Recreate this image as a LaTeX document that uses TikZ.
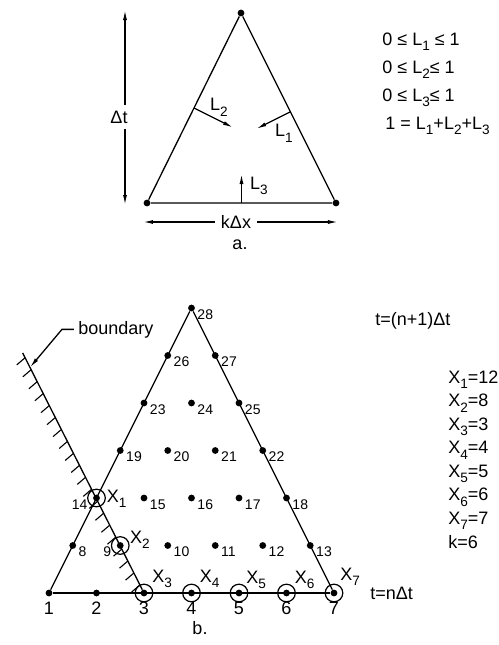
\documentclass[tikz,border=0pt]{standalone}
\usepackage{fontspec}
\setmainfont{Liberation Sans}
\usetikzlibrary{arrows.meta, calc, decorations.markings}
\newcommand{\dn}[1]{\raisebox{-0.6ex}{\fontsize{6.8}{7}\selectfont #1}}

\begin{document}
\begin{tikzpicture}[
    x=0.5pt, y=-0.5pt,
    dot/.style={circle, fill=black, inner sep=0pt, minimum size=3.4pt},
    ring/.style={circle, draw, line width=0.6pt, inner sep=0pt, minimum size=8.8pt},
    num/.style={font=\fontsize{7}{8}\selectfont, inner sep=0pt},
    txt/.style={font=\fontsize{9}{10}\selectfont, inner sep=0pt},
    lbl/.style={label={[num, anchor=north west, xshift=1pt]-20:#1}},
    lblw/.style={label={[num, anchor=north east, xshift=-2.5pt]200:#1}},
    lbls/.style={label={[txt, anchor=north, label distance=2.6pt]below:#1}},
    edge/.style={line width=0.65pt},
    arrow/.style={-{Latex[length=5pt, width=2pt]}, line width=0.65pt},
    hatched/.style={postaction={decorate}, decoration={markings,
        mark=between positions 0.02 and 0.99 step 6.7pt with {\draw[line width=0.55pt] (0,0) -- (1.3pt,-5.3pt);}}},
]
\useasboundingbox (0,0) rectangle (499,645);

% Part a: one element
\node[dot] (ta) at (241,13) {};
\node[dot] (tl) at (147,203) {};
\node[dot] (tr) at (336,203) {};
\draw[edge] (ta) -- (tl) -- (tr) -- (ta);
\coordinate (m1) at ($(tr)!0.48!(ta)$);
\coordinate (m2) at ($(tl)!0.5!(ta)$);
\coordinate (m3) at ($(tl)!0.5!(tr)$);
\coordinate (e1) at ($(m1)+(-34,17)$);
\coordinate (e2) at ($(m2)+(39,19.5)$);
\coordinate (e3) at ($(m3)+(0,-29)$);
\draw[arrow] (m1) -- (e1);
\draw[arrow] (m2) -- (e2);
\draw[arrow] (m3) -- (e3);
\node[txt] (l1) at (284,133) {L\dn{1}};
\node[txt] (l2) at (219,107) {L\dn{2}};
\node[txt] (l3) at (259,186) {L\dn{3}};

% sizes of the element
\coordinate (dtt) at (125,10);
\coordinate (dtb) at (125,205);
\node[txt, inner sep=2.5pt] (dt) at (119,117) {Δt};
\draw[arrow] (dt.north -| dtt) -- (dtt);
\draw[arrow] (dt.south -| dtb) -- (dtb);
\coordinate (kl) at (143,222);
\coordinate (kr) at (338,222);
\node[txt, inner sep=3pt] (kdx) at (236,222) {kΔx};
\draw[arrow] (kdx) -- (kl);
\draw[arrow] (kdx) -- (kr);
\node[txt] (capa) at (240,245) {a.};

% conditions
\node[txt, anchor=base west] (eq1) at (382,45) {0 ≤ L\dn{1} ≤ 1};
\node[txt, anchor=base west] (eq2) at (382,73) {0 ≤ L\dn{2}≤ 1};
\node[txt, anchor=base west] (eq3) at (382,101) {0 ≤ L\dn{3}≤ 1};
\node[txt, anchor=base west] (eq4) at (385,129) {1 = L\dn{1}+L\dn{2}+L\dn{3}};

% Part b: grid of points
\node[dot, lbls=1] (n1) at (49,593) {};
\node[dot, lbls=2] (n2) at (96.5,593) {};
\node[dot, lbls=3] (n3) at (144,593) {};
\node[dot, lbls=4] (n4) at (191.5,593) {};
\node[dot, lbls=5] (n5) at (239,593) {};
\node[dot, lbls=6] (n6) at (286.5,593) {};
\node[dot, lbls=7] (n7) at (334,593) {};
\node[dot, lbl=8] (n8) at (72.75,545.5) {};
\node[dot, lblw=9] (n9) at (120.25,545.5) {};
\node[dot, lbl=10] (n10) at (167.75,545.5) {};
\node[dot, lbl=11] (n11) at (215.25,545.5) {};
\node[dot, lbl=12] (n12) at (262.75,545.5) {};
\node[dot, lbl=13] (n13) at (310.25,545.5) {};
\node[dot, lblw=14] (n14) at (96.5,498) {};
\node[dot, lbl=15] (n15) at (144,498) {};
\node[dot, lbl=16] (n16) at (191.5,498) {};
\node[dot, lbl=17] (n17) at (239,498) {};
\node[dot, lbl=18] (n18) at (286.5,498) {};
\node[dot, lbl=19] (n19) at (120.25,450.5) {};
\node[dot, lbl=20] (n20) at (167.75,450.5) {};
\node[dot, lbl=21] (n21) at (215.25,450.5) {};
\node[dot, lbl=22] (n22) at (262.75,450.5) {};
\node[dot, lbl=23] (n23) at (144,403) {};
\node[dot, lbl=24] (n24) at (191.5,403) {};
\node[dot, lbl=25] (n25) at (239,403) {};
\node[dot, lbl=26] (n26) at (167.75,355.5) {};
\node[dot, lbl=27] (n27) at (215.25,355.5) {};
\node[dot, lbl=28] (n28) at (191.5,308) {};
\draw[edge] (n1) -- (n7);
\draw[edge] (n1) -- (n28);
\draw[edge] (n7) -- (n28);

% points X1..X7
\node[ring] (x1) at (n14) {};
\node[ring] (x2) at (n9) {};
\node[ring] (x3) at (n3) {};
\node[ring] (x4) at (n4) {};
\node[ring] (x5) at (n5) {};
\node[ring] (x6) at (n6) {};
\node[ring] (x7) at (n7) {};
\node[txt, anchor=base west] (xl1) at ($(n14)+(10,4)$) {X\dn{1}};
\node[txt, anchor=base west] (xl2) at ($(n9)+(9.5,-2.5)$) {X\dn{2}};
\node[txt, anchor=base west] (xl3) at ($(n3)+(8,-11)$) {X\dn{3}};
\node[txt, anchor=base west] (xl4) at ($(n4)+(8,-11)$) {X\dn{4}};
\node[txt, anchor=base west] (xl5) at ($(n5)+(7,-10)$) {X\dn{5}};
\node[txt, anchor=base west] (xl6) at ($(n6)+(8,-10)$) {X\dn{6}};
\node[txt, anchor=base west] (xl7) at ($(n7)+(6,-13)$) {X\dn{7}};

% boundary
\coordinate (btop) at (22.7,353);
\draw[edge, hatched] (btop) -- (n3);
\coordinate (btip) at ($(btop)!0.06!(n3)$);
\node[txt, anchor=base west] (bnd) at (78,334) {boundary};
\draw[arrow] ([xshift=-2pt]bnd.west) -- ++(-12,0) -- (btip);

% time levels and values
\node[txt, anchor=base west] (tn1) at (375,325) {t=(n+1)Δt};
\node[txt, anchor=base west] (tn) at (370,599) {t=nΔt};
\node[txt, anchor=base west] (v1) at (448,383) {X\dn{1}=12};
\node[txt, anchor=base west] (v2) at (448,406.5) {X\dn{2}=8};
\node[txt, anchor=base west] (v3) at (448,430) {X\dn{3}=3};
\node[txt, anchor=base west] (v4) at (448,453.5) {X\dn{4}=4};
\node[txt, anchor=base west] (v5) at (448,477) {X\dn{5}=5};
\node[txt, anchor=base west] (v6) at (448,500.5) {X\dn{6}=6};
\node[txt, anchor=base west] (v7) at (448,524) {X\dn{7}=7};
\node[txt, anchor=base west] (vk) at (448,548) {k=6};
\node[txt] (capb) at (200,628) {b.};
\end{tikzpicture}
\end{document}
